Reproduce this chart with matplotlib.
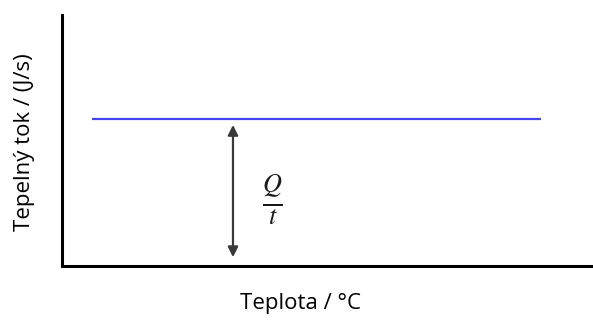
import matplotlib.pyplot as plt

# constant heat flow over the temperature range
temperature = [0.56, 9.02]
heat_flow = [5.86, 5.86]

# double arrow showing the flow magnitude Q/t
arrow_x = 3.22
arrow_bottom = 0.35
arrow_top = 5.62

x_label = "Teplota / °C"
y_label = "Tepelný tok / (J/s)"

plt.rcParams["font.family"] = ["Open Sans", "DejaVu Sans"]
plt.rcParams["mathtext.fontset"] = "stix"

fig = plt.figure(figsize=(5.93, 3.2), dpi=100)
ax = fig.add_axes([62 / 593, 54 / 320, 531 / 593, 251 / 320])
ax.set_xlim(0, 10)
ax.set_ylim(0, 10)

ax.plot(temperature, heat_flow, color="#4646f0", linewidth=1.6, solid_capstyle="butt")

ax.annotate("", xy=(arrow_x, arrow_top), xytext=(arrow_x, arrow_bottom),
            arrowprops=dict(arrowstyle="<|-|>", color="#3a3a3a", lw=1.6,
                            mutation_scale=15, shrinkA=0, shrinkB=0))

ax.text(3.97, 2.63, r"$\frac{Q}{t}$", fontsize=27, ha="center", va="center",
        color="#1a1a1a")

for side in ["top", "right"]:
    ax.spines[side].set_visible(False)
for side in ["left", "bottom"]:
    ax.spines[side].set_linewidth(2.2)
ax.set_xticks([])
ax.set_yticks([])

fig.text(300 / 593, 1 - 304 / 320, x_label, ha="center", va="center", fontsize=16)
fig.text(25 / 593, 1 - 142 / 320, y_label, ha="center", va="center",
         rotation=90, fontsize=16)

fig.savefig("out.png", dpi=100)
